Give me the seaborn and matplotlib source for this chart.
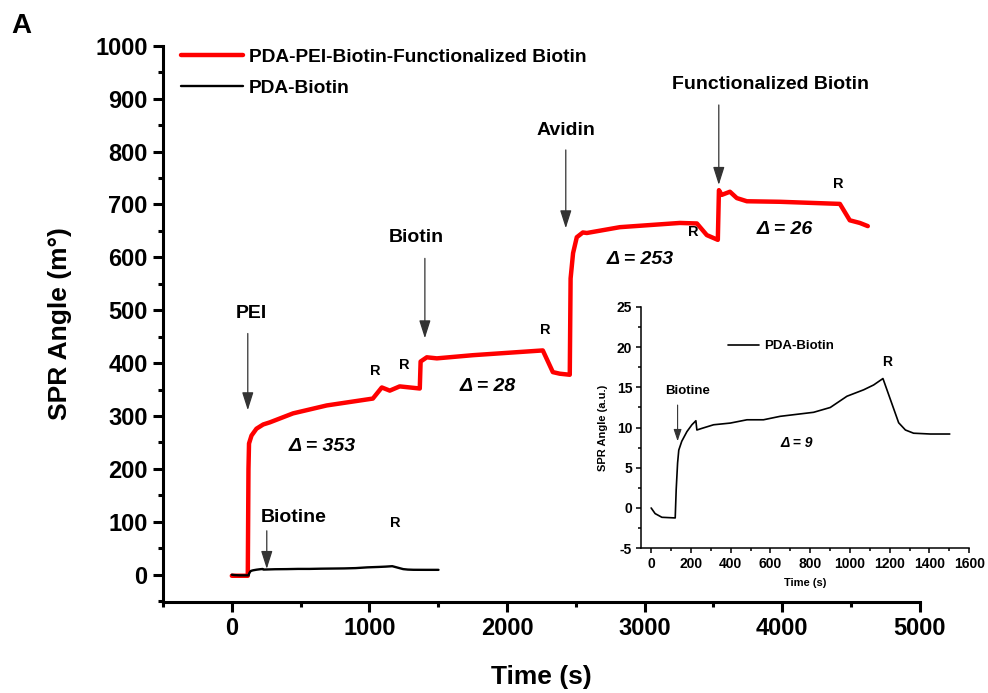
import matplotlib
matplotlib.use("Agg")
import matplotlib.pyplot as plt
from matplotlib.ticker import MultipleLocator
import numpy as np
import pandas as pd
import seaborn as sns

# PDA-PEI-Biotin-Functionalized Biotin sensorgram (m°)
red_time = [0, 116, 121, 125, 143, 179, 228, 276, 445, 690, 1025, 1090, 1148,
            1220, 1366, 1372, 1417, 1490, 1752, 2260, 2333, 2383, 2456, 2462,
            2480, 2507, 2551, 2580, 2820, 3256, 3380, 3452, 3532, 3540, 3560,
            3620, 3670, 3743, 3983, 4419, 4491, 4564, 4622]
red_angle = [-2, -2, 200, 248, 263, 276, 284, 288, 305, 320, 333, 354, 348,
             356, 352, 403, 411, 409, 415, 424, 383, 380, 378, 560,
             608, 638, 647, 646, 657, 665, 664, 642, 633, 727, 718,
             724, 712, 706, 705, 701, 670, 665, 659]

# PDA-Biotin sensorgram
black_time = [0, 20, 54, 121, 126, 133, 139, 154, 180, 205, 225, 230, 255, 314,
              398, 482, 565, 649, 817, 901, 985, 1069, 1119, 1166, 1245, 1279,
              1320, 1404, 1502]
black_angle = [0, -0.7, -1.16, -1.24, 2.3, 5.6, 7.2, 8.3, 9.5, 10.35, 10.85,
               9.7, 9.9, 10.35, 10.56, 10.97, 10.97, 11.4, 11.9, 12.5, 13.9,
               14.7, 15.3, 16.1, 10.6, 9.7, 9.3, 9.2, 9.2]

# step labels: (text, time, angle)
step_labels = [("PEI", 145, 494), ("Biotin", 1344, 638), ("Avidin", 2427, 839),
               ("Functionalized Biotin", 3917, 926)]
# injection arrows: (time, start angle, end angle)
step_arrows = [(116, 456, 311), (1403, 598, 447), (2427, 803, 655),
               (3539, 888, 737)]
rinse_marks = [(1039, 386), (1250, 396), (2275, 462), (3350, 648), (4404, 739),
               (1185, 97)]
delta_labels = [("353", 654, 242), ("28", 1860, 356), ("253", 2965, 595),
                ("26", 4019, 652)]

sns.set_style("ticks")
plt.rcParams["font.family"] = ["Liberation Sans", "DejaVu Sans"]
plt.rcParams["font.weight"] = "bold"
plt.rcParams["axes.labelweight"] = "bold"
plt.rcParams["axes.unicode_minus"] = False
for key in ["text.color", "axes.labelcolor", "xtick.color", "ytick.color",
            "axes.edgecolor"]:
    plt.rcParams[key] = "black"

fig = plt.figure(figsize=(9.88, 6.93), dpi=100)
ax = fig.add_axes([0.165, 0.131, 0.766, 0.803])

red_df = pd.DataFrame({"t": red_time, "a": red_angle})
blk_df = pd.DataFrame({"t": black_time, "a": black_angle})
sns.lineplot(data=red_df, x="t", y="a", ax=ax, color="#ff0000", lw=3.2,
             label="PDA-PEI-Biotin-Functionalized Biotin", sort=False)
sns.lineplot(data=blk_df, x="t", y="a", ax=ax, color="black", lw=1.7,
             label="PDA-Biotin", sort=False)

ax.set_xlim(-500, 5000)
ax.set_ylim(-52, 1000)
ax.xaxis.set_major_locator(MultipleLocator(1000))
ax.xaxis.set_minor_locator(MultipleLocator(500))
ax.yaxis.set_major_locator(MultipleLocator(100))
ax.yaxis.set_minor_locator(MultipleLocator(50))
for side in ["top", "right"]:
    ax.spines[side].set_visible(False)
for side in ["left", "bottom"]:
    ax.spines[side].set_linewidth(2.2)
ax.tick_params(which="major", length=7, width=2.2, labelsize=17, pad=4)
ax.tick_params(which="minor", length=3.5, width=2.2)
for lab in ax.get_xticklabels() + ax.get_yticklabels():
    lab.set_fontweight("bold")
ax.set_xlabel("Time (s)", fontsize=19, fontweight="bold", labelpad=18)
ax.set_ylabel("SPR Angle (m°)", fontsize=19, fontweight="bold", labelpad=17)

ax.legend(loc="upper left", bbox_to_anchor=(0.024, 0.995), frameon=False,
          borderpad=0, borderaxespad=0, handlelength=3.25, handletextpad=0.3,
          labelspacing=0.7, prop={"size": 13.8, "weight": "bold"})

arrow_style = dict(arrowstyle="-|>,head_length=1.1,head_width=0.35",
                   mutation_scale=10, color="#333333", lw=0.9,
                   shrinkA=0, shrinkB=0)
for text, t, a in step_labels:
    ax.text(t, a, text, ha="center", va="center", fontsize=14,
            fontweight="bold")
for t, a0, a1 in step_arrows:
    ax.annotate("", xy=(t, a1), xytext=(t, a0), arrowprops=arrow_style)
for t, a in rinse_marks:
    ax.text(t, a, "R", ha="center", va="center", fontsize=10.5,
            fontweight="bold")
for val, t, a in delta_labels:
    ax.text(t, a, f"Δ = {val}", ha="center", va="center", fontsize=14,
            fontweight="bold", style="italic")
ax.text(450, 108, "Biotine", ha="center", va="center", fontsize=14,
        fontweight="bold")
ax.annotate("", xy=(254, 11), xytext=(254, 83), arrowprops=arrow_style)

fig.text(0.022, 0.963, "A", fontsize=20, fontweight="bold", ha="center",
         va="center")

# inset: PDA-Biotin alone
ins = fig.add_axes([0.649, 0.209, 0.332, 0.348])
ins.patch.set_alpha(0)
sns.lineplot(data=blk_df, x="t", y="a", ax=ins, color="black", lw=1.2,
             label="PDA-Biotin", sort=False)
ins.set_xlim(-50, 1600)
ins.set_ylim(-5, 25)
ins.xaxis.set_major_locator(MultipleLocator(200))
ins.xaxis.set_minor_locator(MultipleLocator(100))
ins.yaxis.set_major_locator(MultipleLocator(5))
ins.yaxis.set_minor_locator(MultipleLocator(2.5))
for side in ["top", "right"]:
    ins.spines[side].set_visible(False)
for side in ["left", "bottom"]:
    ins.spines[side].set_linewidth(1.1)
ins.tick_params(which="major", length=3.5, width=1.1, labelsize=10, pad=3)
ins.tick_params(which="minor", length=2, width=1.1)
for lab in ins.get_xticklabels() + ins.get_yticklabels():
    lab.set_fontweight("bold")
ins.set_xlabel("Time (s)", fontsize=8, fontweight="bold", labelpad=5)
ins.set_ylabel("SPR Angle (a.u.)", fontsize=8, fontweight="bold", labelpad=6)
ins.legend(loc="center left", bbox_to_anchor=(0.264, 0.838), frameon=False,
           borderpad=0, borderaxespad=0, handlelength=2.4, handletextpad=0.32,
           prop={"size": 9.5, "weight": "bold"})
ins.text(185, 14.6, "Biotine", ha="center", va="center", fontsize=9.5,
         fontweight="bold")
ins.annotate("", xy=(133, 8.3), xytext=(133, 12.8),
             arrowprops=dict(arrowstyle="-|>,head_length=0.9,head_width=0.3",
                             mutation_scale=8, color="#333333", lw=0.8,
                             shrinkA=0, shrinkB=0))
ins.text(1186, 18.1, "R", ha="center", va="center", fontsize=10,
         fontweight="bold")
ins.text(733, 8.1, "Δ = 9", ha="center", va="center", fontsize=10,
         fontweight="bold", style="italic")

fig.savefig("out.png", dpi=100)
